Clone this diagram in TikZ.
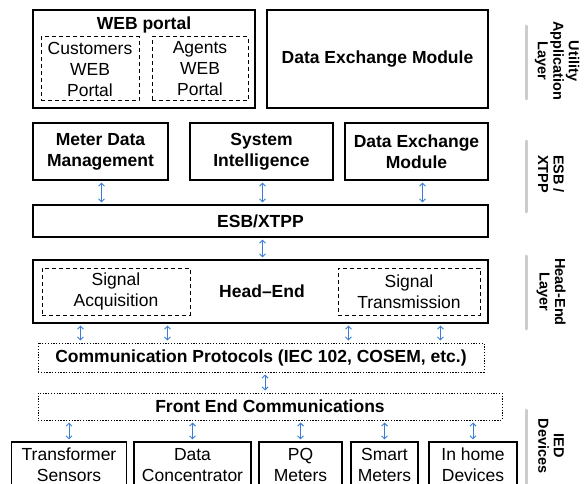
\documentclass[tikz,border=0pt]{standalone}
\usepackage{fontspec}
\setmainfont{Liberation Sans}
\usetikzlibrary{arrows.meta,calc}
\definecolor{arrblue}{RGB}{58,125,215}
\tikzset{
  box/.style={draw, line width=1.1pt, inner sep=0pt, align=center, font=\fontsize{17.5}{21}\selectfont},
  dbox/.style={draw, line width=1pt, dash pattern=on 4pt off 3pt, inner sep=0pt, align=center, font=\fontsize{17.5}{21}\selectfont},
  pbox/.style={draw, line width=1pt, dash pattern=on 1.3pt off 1.5pt, inner sep=0pt, align=center, font=\fontsize{17.5}{21}\selectfont\bfseries},
  bold/.style={font=\fontsize{17.5}{21}\selectfont\bfseries},
  arr/.style={draw=arrblue, line width=0.9pt, arrows={Straight Barb[length=3pt,width=6pt]-Straight Barb[length=3pt,width=6pt]}},
  gbar/.style={draw=black!20, line width=3pt, line cap=round},
  lay/.style={rotate=-90, align=center, inner sep=0pt, font=\fontsize{14.5}{15.5}\selectfont\bfseries},
}
\begin{document}
\begin{tikzpicture}[x=1pt,y=-1pt]
\useasboundingbox (0,0) rectangle (587,484);
\clip (0,0) rectangle (587,484);
% row 1
\node[box, minimum width=222pt, minimum height=98pt] (web) at (144,59) {};
\node[bold] (webt) at (144,25) {WEB portal};
\node[dbox, minimum width=98pt, minimum height=64pt] (cust) at (90,69) {Customers\\WEB\\Portal};
\node[dbox, minimum width=96pt, minimum height=64pt] (agen) at (200,69) {Agents\\WEB\\Portal};
\node[box, minimum width=221pt, minimum height=98pt, font=\fontsize{17.5}{21}\selectfont\bfseries] (dem1) at (377.5,59) {Data Exchange Module};
% row 2
\node[box, minimum width=135pt, minimum height=57pt, font=\fontsize{17.5}{21}\selectfont\bfseries] (mdm) at (100.5,151.5) {Meter Data\\Management};
\node[box, minimum width=143pt, minimum height=57pt, font=\fontsize{17.5}{21}\selectfont\bfseries] (si) at (261.5,151.5) {System\\Intelligence};
\node[box, minimum width=143pt, minimum height=57pt, font=\fontsize{17.5}{21}\selectfont\bfseries] (dem2) at (416.5,151.5) {Data Exchange\\Module};
\node[box, minimum width=455pt, minimum height=32pt, font=\fontsize{17.5}{21}\selectfont\bfseries] (esb) at (260.5,221) {ESB/XTPP};
% head-end
\node[box, minimum width=455pt, minimum height=63pt] (he) at (260.5,291.5) {};
\node[bold] (het) at (262,291) {Head--End};
\node[dbox, minimum width=148pt, minimum height=47pt] (sa) at (116,291.5) {Signal\\Acquisition};
\node[dbox, minimum width=142pt, minimum height=47pt] (st) at (409,291.5) {Signal\\Transmission};
% comm
\node[pbox, minimum width=446pt, minimum height=29pt] (cp) at (261,357.5) {Communication Protocols (IEC 102, COSEM, etc.)};
\node[pbox, minimum width=464pt, minimum height=27pt] (fe) at (270,406.5) {Front End Communications};
% devices
\node[box, minimum width=115pt, minimum height=46pt] (d1) at (69,465) {Transformer\\Sensors};
\node[box, minimum width=117pt, minimum height=46pt] (d2) at (192.5,465) {Data\\Concentrator};
\node[box, minimum width=83pt, minimum height=46pt] (d3) at (300.5,465) {PQ\\Meters};
\node[box, minimum width=67pt, minimum height=46pt] (d4) at (384.5,465) {Smart\\Meters};
\node[box, minimum width=88pt, minimum height=46pt] (d5) at (473,465) {In home\\Devices};
% arrows
\draw[arr] ($(mdm.south)+(1,2)$) -- ($(mdm.south |- esb.north)+(1,-2)$);
\draw[arr] ($(si.south)+(1,2)$) -- ($(si.south |- esb.north)+(1,-2)$);
\draw[arr] ($(dem2.south)+(6,2)$) -- ($(dem2.south |- esb.north)+(6,-2)$);
\draw[arr] ($(esb.south)+(2,2)$) -- ($(esb.south |- he.north)+(2,-2)$);
\foreach \dx in {48,135,316,408}
  \draw[arr] ($(he.south west)+(\dx,2)$) -- ($(he.south west |- cp.north)+(\dx,-2)$);
\draw[arr] ($(cp.south)+(4,2)$) -- ($(cp.south |- fe.north)+(4,-2)$);
\foreach \n in {d1,d2,d3,d4,d5}
  \draw[arr] ($(fe.south -| \n.north)+(0,2)$) -- ($(\n.north)+(0,-2)$);
% layer bars and labels
\draw[gbar] (526,26) coordinate (b1a) -- (526,99) coordinate (b1b);
\node[lay] (l1) at (557,61) {Utility\\Application\\Layer};
\draw[gbar] (526,141) coordinate (b2a) -- (526,212) coordinate (b2b);
\node[lay] (l2) at (551,174) {ESB /\\XTPP};
\draw[gbar] (526,256) coordinate (b3a) -- (526,329) coordinate (b3b);
\node[lay] (l3) at (551,292) {Head-End\\Layer};
\draw[gbar] (526,410) coordinate (b4a) -- (526,490) coordinate (b4b);
\node[lay] (l4) at (551,446) {IED\\Devices};
\end{tikzpicture}
\end{document}
